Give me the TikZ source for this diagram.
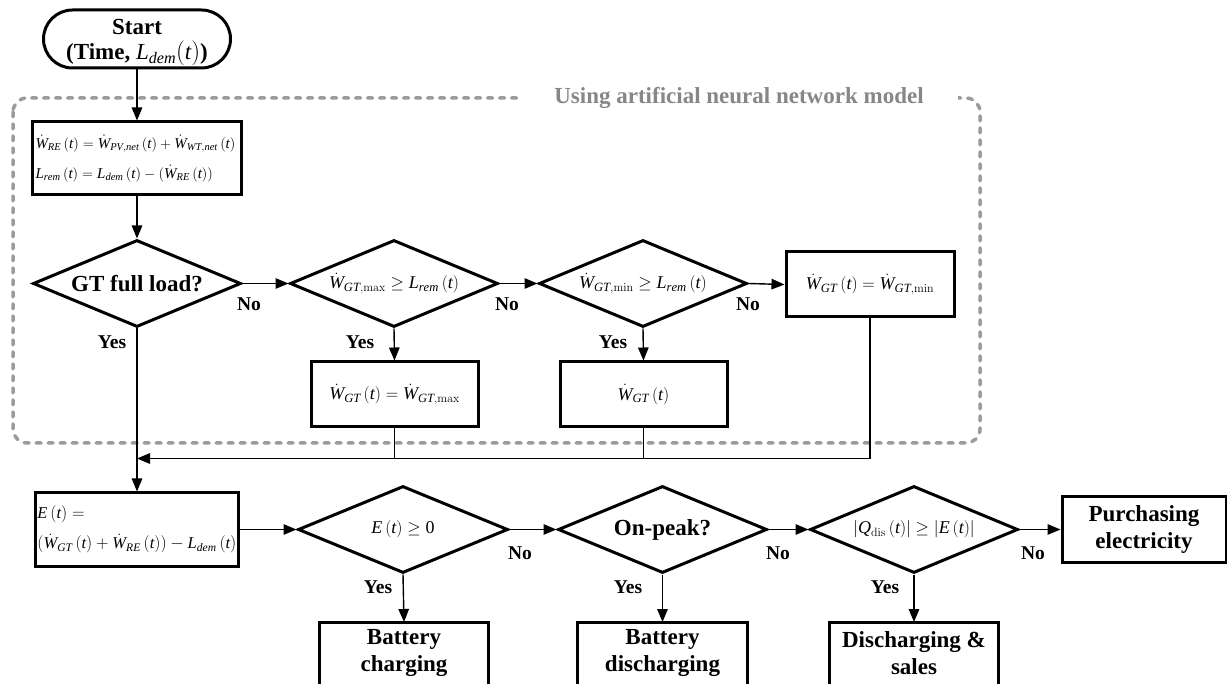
\documentclass[tikz,border=0pt]{standalone}
\usepackage{mathspec}
\setmainfont{Liberation Serif}
\setmathsfont(Digits,Latin){Liberation Serif}
\usetikzlibrary{shapes.geometric,arrows.meta}
\definecolor{dashgray}{RGB}{155,155,155}
\definecolor{labgray}{RGB}{135,135,135}
\begin{document}
\begin{tikzpicture}[x=1pt,y=-1pt,
  every node/.style={inner sep=0pt},
  blk/.style={draw, line width=3pt, rectangle},
  dia/.style={draw, line width=3pt, diamond, shape aspect=2.4, minimum width=208pt, minimum height=87pt, inner sep=0pt},
  boldtxt/.style={font=\bfseries\fontsize{23}{27}\selectfont},
  eqsmall/.style={font=\fontsize{15}{30}\selectfont},
  eqbig/.style={font=\fontsize{18}{20}\selectfont},
  yn/.style={font=\bfseries\fontsize{19.5}{22}\selectfont},
  arr/.style={line width=1.4pt, -{Triangle[length=13pt,width=10.5pt]}},
  ln/.style={line width=1.4pt},
]
\useasboundingbox (0,0) rectangle (1227,684);

% dashed ANN region
\draw[dashgray, line width=3.5pt, dash pattern=on 5pt off 7pt, line cap=round, rounded corners=14pt]
  (13,98) rectangle (980,443);
\node[fill=white, inner xsep=34pt, inner ysep=5pt, boldtxt, text=labgray] (ann) at (739,98)
  {Using artificial neural network model};

% start
\node[blk, rounded corners=29pt, minimum width=187pt, minimum height=58pt] (start) at (137,39) {};
\node[align=center, font=\bfseries\fontsize{23}{25}\selectfont] (starttxt) at (137,42.5)
  {Start\\(Time, $L_{dem}(t)$)};

\node[blk, minimum width=209pt, minimum height=73pt, eqsmall, align=left, text width=203pt] (re) at (137,158.5)
  {$\dot W_{RE}\,(t)=\dot W_{PV,net}\,(t)+\dot W_{WT,net}\,(t)$\\
   $L_{rem}\,(t)=L_{dem}\,(t)-(\dot W_{RE}\,(t))$};

% decisions in the ANN part
\node[dia] (d1) at (137,283.5) {};
\node[boldtxt] (d1t) at (d1) {GT full load?};
\node[dia] (d2) at (394,283.5) {};
\node[eqbig] (d2t) at (d2) {$\dot W_{GT,\max}\ge L_{rem}\,(t)$};
\node[dia] (d3) at (643,283.5) {};
\node[eqbig] (d3t) at (d3) {$\dot W_{GT,\min}\ge L_{rem}\,(t)$};
\node[blk, minimum width=168pt, minimum height=65pt, eqbig] (bmin) at (870,284.5) {$\dot W_{GT}\,(t)=\dot W_{GT,\min}$};
\node[blk, minimum width=167pt, minimum height=65pt, eqbig] (bmax) at (394.5,394.5) {$\dot W_{GT}\,(t)=\dot W_{GT,\max}$};
\node[blk, minimum width=167pt, minimum height=65pt, eqbig] (bgt) at (643.5,394.5) {$\dot W_{GT}\,(t)$};
\coordinate (jn) at (137,458.5);

% lower part
\node[blk, minimum width=203pt, minimum height=73pt, font=\fontsize{16.5}{30}\selectfont, align=left, text width=199pt] (ebox) at (137,529.5)
  {$E\,(t)=$\\
   $(\dot W_{GT}\,(t)+\dot W_{RE}\,(t))-L_{dem}\,(t)$};
\node[dia, minimum width=210pt] (d4) at (403,529.5) {};
\node[eqbig] (d4t) at (d4) {$E\,(t)\ge 0$};
\node[dia, minimum width=209pt] (d5) at (662.5,529.5) {};
\node[boldtxt] (d5t) at (d5) {On-peak?};
\node[dia] (d6) at (914,529.5) {};
\node[eqbig] (d6t) at (d6) {$\left|Q_{\mathrm{dis}}\,(t)\right|\ge\left|E\,(t)\right|$};
\node[blk, minimum width=164pt, minimum height=65pt, boldtxt, align=center] (buy) at (1144,529.5)
  {Purchasing\\electricity};

% bottom boxes (cut by the page edge)
\node[minimum width=168pt, minimum height=62pt, boldtxt, align=center, anchor=north] (chg) at (404,622) {Battery\\charging};
\node[minimum width=169pt, minimum height=62pt, boldtxt, align=center, anchor=north] (dch) at (662.5,622) {Battery\\discharging};
\node[minimum width=168pt, minimum height=62pt, boldtxt, align=center, anchor=north] (sal) at (914,622) {Discharging \&\\sales};
\foreach \n in {chg,dch,sal}{
  \draw[line width=3pt] ([yshift=-20pt]\n.south west) -- (\n.north west) -- (\n.north east) -- ([yshift=-20pt]\n.south east);
}

% connectors
\draw[arr] (start) -- (re);
\draw[arr] (re) -- (d1);
\draw[arr] (d1.east) -- (d2.west);
\draw[arr] (d2.east) -- (d3.west);
\draw[arr] (d3.east) -- (bmin.west);
\draw[arr] (d2.south) -- (bmax.north);
\draw[arr] (d3.south) -- (bgt.north);
\draw[arr] (d1.south) -- (ebox.north);
\draw[ln] (bmax.south) -- (bmax.south |- jn);
\draw[ln] (bgt.south) -- (bgt.south |- jn);
\draw[arr] (bmin.south) |- (jn);
\draw[arr] (ebox.east) -- (d4.west);
\draw[arr] (d4.east) -- (d5.west);
\draw[arr] (d5.east) -- (d6.west);
\draw[arr] (d6.east) -- (buy.west);
\draw[arr] (d4.south) -- (chg.north);
\draw[arr] (d5.south) -- (dch.north);
\draw[arr] (d6.south) -- (sal.north);

% labels
\node[yn] (no1) at (249,304) {No};
\node[yn] (no2) at (507,304) {No};
\node[yn] (no3) at (748,304) {No};
\node[yn] (yes1) at (112,342) {Yes};
\node[yn] (yes2) at (360,342) {Yes};
\node[yn] (yes3) at (613,342) {Yes};
\node[yn] (no4) at (520,553) {No};
\node[yn] (no5) at (778,553) {No};
\node[yn] (no6) at (1033,553) {No};
\node[yn] (yes4) at (378,587) {Yes};
\node[yn] (yes5) at (628,587) {Yes};
\node[yn] (yes6) at (885,587) {Yes};
\end{tikzpicture}
\end{document}
